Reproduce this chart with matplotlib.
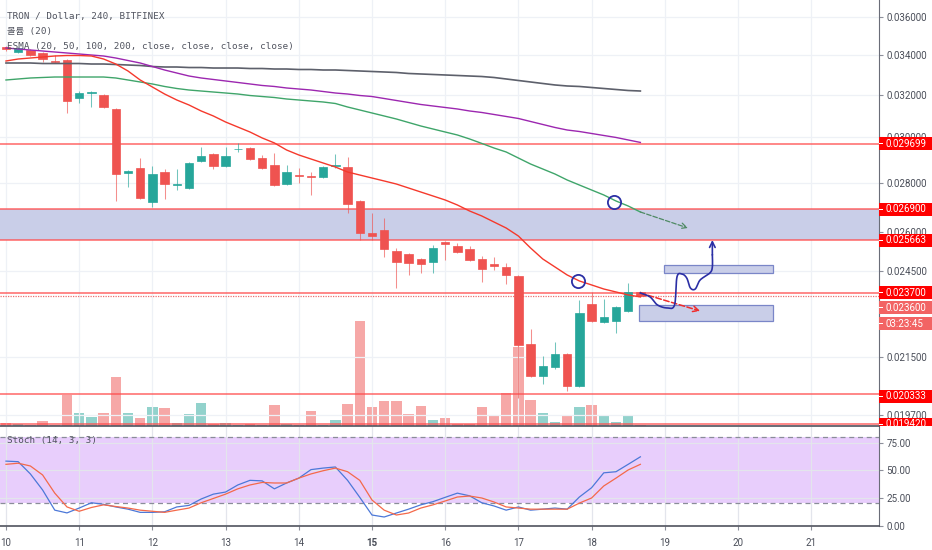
import numpy as np
import matplotlib
matplotlib.use("Agg")
import matplotlib.pyplot as plt
import matplotlib.transforms as mtransforms
from matplotlib.patches import Rectangle
from matplotlib.ticker import FixedLocator, NullLocator, FuncFormatter

# TRX/USD 4h candles (Bitfinex), starting the 10th 00:00
opens = [0.034400, 0.034140, 0.034244, 0.034089, 0.033678, 0.033729, 0.031842, 0.032108, 0.031987, 0.031316,
         0.028421, 0.028637, 0.027200, 0.028464, 0.027930, 0.027783, 0.028943, 0.029253, 0.028724, 0.029452,
         0.029519, 0.029075, 0.028768, 0.027951, 0.028357, 0.028314, 0.028250, 0.028724, 0.028681, 0.027242,
         0.025952, 0.026070, 0.025254, 0.025139, 0.024950, 0.024837, 0.025600, 0.025446, 0.025330, 0.024950,
         0.024762, 0.024650, 0.024317, 0.021934, 0.020896, 0.021184, 0.021605, 0.020583, 0.023305, 0.022679,
         0.022713, 0.023060, 0.023734]
highs = [0.034452, 0.034400, 0.034296, 0.034140, 0.033985, 0.033780, 0.032181, 0.032181, 0.032035, 0.031364,
         0.028551, 0.029075, 0.028724, 0.028594, 0.028594, 0.028899, 0.029564, 0.029297, 0.029564, 0.029746,
         0.029564, 0.029209, 0.029297, 0.028768, 0.028637, 0.028464, 0.028724, 0.029253, 0.029120, 0.027283,
         0.026751, 0.026548, 0.025369, 0.025177, 0.024988, 0.025484, 0.025639, 0.025561, 0.025446, 0.025063,
         0.025025, 0.024800, 0.024353, 0.022439, 0.021540, 0.022002, 0.021637, 0.023447, 0.023734, 0.023483,
         0.023236, 0.024060, 0.023769]
lows = [0.034192, 0.034089, 0.033934, 0.033627, 0.033576, 0.031127, 0.031602, 0.031411, 0.031364, 0.027242,
        0.027825, 0.027324, 0.026996, 0.027324, 0.027699, 0.027741, 0.028899, 0.028594, 0.028681, 0.029341,
        0.028987, 0.028594, 0.027867, 0.027909, 0.027994, 0.027490, 0.028207, 0.028637, 0.026751, 0.025678,
        0.025678, 0.025025, 0.023877, 0.024353, 0.024427, 0.024427, 0.024912, 0.025177, 0.024874, 0.024096,
        0.024538, 0.024024, 0.020211, 0.020865, 0.020645, 0.021120, 0.020427, 0.020551, 0.022679, 0.022645,
        0.022305, 0.023026, 0.023590]
closes = [0.034270, 0.034348, 0.033985, 0.033780, 0.033627, 0.031698, 0.032085, 0.032132, 0.031411, 0.028380,
          0.028508, 0.027366, 0.028378, 0.027951, 0.027951, 0.028855, 0.029164, 0.028724, 0.029164, 0.029475,
          0.029031, 0.028637, 0.027909, 0.028464, 0.028314, 0.028271, 0.028681, 0.028768, 0.027117, 0.025952,
          0.025834, 0.025330, 0.024837, 0.024800, 0.024762, 0.025369, 0.025542, 0.025215, 0.024912, 0.024575,
          0.024687, 0.024353, 0.021900, 0.020896, 0.021216, 0.021605, 0.020583, 0.022990, 0.022713, 0.022850,
          0.023201, 0.023734, 0.023600]
volume = [3, 2, 1, 5, 1, 31, 13, 9, 13, 49, 13, 8, 19, 18, 3, 12, 23, 2, 3, 1,
          2, 1, 21, 2, 1, 15, 1, 6, 22, 105, 19, 25, 25, 12, 20, 6, 8, 2, 2, 19,
          11, 33, 79, 26, 13, 4, 10, 19, 21, 10, 4, 11, 1]

ma20 = [0.033678, 0.033780, 0.033831, 0.033882, 0.033934, 0.033959, 0.033959, 0.033934, 0.033780, 0.033525,
        0.033172, 0.032723, 0.032377, 0.032035, 0.031746, 0.031507, 0.031222, 0.030986, 0.030705, 0.030473,
        0.030243, 0.029971, 0.029746, 0.029430, 0.029209, 0.029031, 0.028855, 0.028681, 0.028464, 0.028335,
        0.028207, 0.028080, 0.027951, 0.027783, 0.027615, 0.027449, 0.027283, 0.027077, 0.026832, 0.026630,
        0.026388, 0.026149, 0.025834, 0.025369, 0.024950, 0.024650, 0.024353, 0.024133, 0.023988, 0.023841,
        0.023734, 0.023627, 0.023556]
ma50 = [0.032723, 0.032773, 0.032822, 0.032847, 0.032871, 0.032871, 0.032871, 0.032871, 0.032871, 0.032822,
        0.032723, 0.032624, 0.032526, 0.032403, 0.032304, 0.032230, 0.032181, 0.032132, 0.032084, 0.032035,
        0.031962, 0.031914, 0.031866, 0.031794, 0.031746, 0.031698, 0.031650, 0.031578, 0.031411, 0.031269,
        0.031127, 0.030986, 0.030845, 0.030682, 0.030520, 0.030381, 0.030243, 0.030107, 0.029926, 0.029724,
        0.029519, 0.029341, 0.029075, 0.028811, 0.028594, 0.028378, 0.028122, 0.027909, 0.027699, 0.027491,
        0.027242, 0.027036, 0.026791]
ma100 = [0.034348, 0.034296, 0.034244, 0.034192, 0.034140, 0.034089, 0.034037, 0.033985, 0.033934, 0.033831,
         0.033703, 0.033576, 0.033399, 0.033222, 0.033071, 0.032921, 0.032822, 0.032748, 0.032674, 0.032600,
         0.032526, 0.032452, 0.032403, 0.032329, 0.032279, 0.032230, 0.032157, 0.032084, 0.032035, 0.031963,
         0.031914, 0.031818, 0.031722, 0.031626, 0.031531, 0.031459, 0.031388, 0.031317, 0.031222, 0.031151,
         0.031057, 0.030963, 0.030869, 0.030729, 0.030590, 0.030451, 0.030335, 0.030266, 0.030175, 0.030084,
         0.029994, 0.029881, 0.029769]
ma200 = [0.033576, 0.033576, 0.033576, 0.033550, 0.033550, 0.033550, 0.033550, 0.033525, 0.033525, 0.033500,
         0.033474, 0.033449, 0.033398, 0.033373, 0.033373, 0.033347, 0.033347, 0.033322, 0.033322, 0.033322,
         0.033297, 0.033297, 0.033272, 0.033272, 0.033247, 0.033247, 0.033222, 0.033222, 0.033197, 0.033172,
         0.033147, 0.033122, 0.033097, 0.033047, 0.033022, 0.032997, 0.032972, 0.032947, 0.032921, 0.032896,
         0.032847, 0.032773, 0.032698, 0.032624, 0.032550, 0.032477, 0.032427, 0.032403, 0.032353, 0.032304,
         0.032255, 0.032206, 0.032181]

stoch_k = [58.3, 57.8, 46.7, 32.2, 13.9, 11.4, 15.8, 20.6, 19.2, 16.8,
           14.8, 11.9, 11.9, 12.4, 16.8, 18.2, 24.0, 28.4, 30.3, 36.7,
           40.9, 40.4, 33.2, 38.5, 42.9, 50.6, 52.0, 53.0, 40.9, 25.5,
           9.5, 7.7, 11.3, 14.8, 18.7, 21.6, 25.5, 29.3, 26.9, 20.6,
           17.7, 13.9, 16.8, 13.9, 14.8, 15.8, 14.8, 25.8, 34.2, 47.7,
           48.7, 55.4, 62.2]
stoch_d = [55.4, 56.4, 53.9, 45.8, 29.3, 16.8, 12.9, 16.3, 18.7, 17.2,
           15.8, 13.9, 12.9, 11.9, 13.9, 15.8, 20.6, 24.5, 28.4, 33.2,
           36.7, 39.0, 38.5, 38.5, 42.9, 46.7, 49.6, 52.0, 48.7, 40.9,
           23.1, 13.9, 9.5, 11.3, 15.8, 18.7, 22.2, 25.8, 26.7, 24.9,
           21.3, 16.8, 15.8, 14.8, 14.8, 14.8, 14.8, 20.3, 24.9, 35.8,
           42.9, 50.3, 55.4]

day_labels = ['10', '11', '12', '13', '14', '15', '16', '17', '18', '19', '20', '21']
candles_per_day = 6
# 0.023000 sits fully under the last-price tags, so it is left out
price_ticks = [0.036, 0.034, 0.032, 0.030, 0.028, 0.026, 0.0245, 0.0215, 0.0197]
stoch_ticks = [0, 25, 50, 75]

line_29699 = 0.029699
zone = (0.025663, 0.026900)
line_237 = 0.023700
last_price = 0.023600
line_20333 = 0.020333
line_1942 = 0.019420

# drawing-tool anchors (candle index, price)
circles = [(49.8, 0.027201), (46.9, 0.024133)]
green_arrow = [(52, 0.026791), (55.9, 0.026149)]
red_arrow = [(52, 0.023697), (56.9, 0.023060)]
boxes = [(53.9, 62.9, 0.024427, 0.024725), (51.9, 62.9, 0.022713, 0.023271)]
path_x = [52.0, 52.8, 53.4, 54.2, 54.8, 55.0, 55.4, 55.8, 56.1, 56.5, 56.9, 57.7, 57.9, 57.9]
path_y = [0.023697, 0.023554, 0.023271, 0.023166, 0.023270, 0.024278, 0.024390, 0.024242,
          0.023877, 0.023841, 0.024169, 0.024427, 0.024650, 0.025100]
path_tip = (57.9, 0.025678)

UP, DOWN = '#26a69a', '#ef5350'
TXT = '#4a4e59'
GRID = '#eef1f6'
plt.rcParams['font.family'] = ['Roboto', 'DejaVu Sans']
MONO = ['DejaVu Sans Mono', 'Noto Sans CJK KR']

W, H = 932, 550
fig = plt.figure(figsize=(W / 100, H / 100), dpi=100)


def px_rect(x0, y0, x1, y1):
    return [x0 / W, 1 - y1 / H, (x1 - x0) / W, (y1 - y0) / H]


def smooth_path(xs, ys, steps=10):
    # Catmull-Rom through the hand-drawn anchors, in log-price space
    px = np.array(xs, float)
    py = np.log(np.array(ys, float))
    px = np.r_[px[0], px, px[-1]]
    py = np.r_[py[0], py, py[-1]]
    ox, oy = [], []
    t = np.linspace(0, 1, steps, endpoint=False)
    for k in range(1, len(px) - 2):
        for arr, out in ((px, ox), (py, oy)):
            p0, p1, p2, p3 = arr[k - 1:k + 3]
            out.extend(0.5 * (2 * p1 + (-p0 + p2) * t + (2 * p0 - 5 * p1 + 4 * p2 - p3) * t ** 2
                              + (-p0 + 3 * p1 - 3 * p2 + p3) * t ** 3))
    ox.append(xs[-1])
    oy.append(np.log(ys[-1]))
    return np.array(ox), np.exp(oy)


n = len(closes)
x = np.arange(n)
xlim = (-0.49, 71.56)
day_pos = np.arange(len(day_labels)) * candles_per_day
o, c, hi, lo = map(np.array, (opens, closes, highs, lows))
up = c >= o
col = np.where(up, UP, DOWN)

# volume underlay
ax_vol = fig.add_axes(px_rect(0, 0, 879, 426))
ax_vol.bar(x, volume, width=0.86, color=col, alpha=0.5, linewidth=0)
ax_vol.set_xlim(*xlim)
ax_vol.set_ylim(0, max(volume) / 0.246)
ax_vol.axis('off')

# price pane
ax = fig.add_axes(px_rect(0, 0, 879, 426))
ax.set_zorder(2)
ax.patch.set_alpha(0)
ax.set_yscale('log')
ax.set_xlim(*xlim)
ax.set_ylim(0.019372, 0.036939)
ax.yaxis.set_major_locator(FixedLocator(price_ticks))
ax.yaxis.set_minor_locator(NullLocator())
ax.yaxis.set_major_formatter(FuncFormatter(lambda v, p: f'{v:.6f}'))
ax.yaxis.tick_right()
ax.set_xticks(day_pos)
ax.tick_params(axis='x', length=0, labelbottom=False)
ax.tick_params(axis='y', length=3, width=0.8, color='#8d909b', pad=2.5, labelsize=7, labelcolor=TXT)
ax.grid(True, color=GRID, lw=0.9)
ax.set_axisbelow(True)
for s in ('top', 'left'):
    ax.spines[s].set_visible(False)
ax.spines['right'].set_color('#6a6d78')
ax.spines['bottom'].set_color('#50535e')
ax.spines['bottom'].set_linewidth(1.2)

ax.axhspan(zone[0], zone[1], fc='#c9cee8', ec='none', zorder=0.8)
for lvl in (line_29699, zone[0], zone[1], line_237, line_20333, line_1942):
    ax.axhline(lvl, color='#ff4d4d', lw=1.1, alpha=0.85, zorder=1)
ax.axhline(last_price, color='#f07070', lw=0.9, ls=(0, (1, 1)), zorder=1)

ax.vlines(x, lo, hi, colors=col, lw=0.75, alpha=0.65, zorder=3)
ax.bar(x, np.abs(c - o), bottom=np.minimum(o, c), width=0.68, color=col,
       edgecolor=col, linewidth=0.5, zorder=3.2)

ax.plot(x, ma200, color='#5d606b', lw=1.2, zorder=4)
ax.plot(x, ma100, color='#9c27b0', lw=1.0, zorder=4)
ax.plot(x, ma50, color='#3fa56a', lw=1.0, zorder=4)
ax.plot(x, ma20, color='#f5392c', lw=1.0, zorder=4)

# drawings
for b in boxes:
    ax.add_patch(Rectangle((b[0], b[2]), b[1] - b[0], b[3] - b[2], fc='#c9cee8',
                           ec='#7a86c8', lw=0.9, zorder=4.5))
for cx, cy in circles:
    ax.plot(cx, cy, 'o', ms=9.5, mfc='none', mec='#2b2fa5', mew=1.3, zorder=6)
ax.annotate('', xy=green_arrow[1], xytext=green_arrow[0],
            arrowprops=dict(arrowstyle='->', color='#4f8a64', lw=0.9, ls='--',
                            shrinkA=0, shrinkB=0), zorder=6)
ax.annotate('', xy=red_arrow[1], xytext=red_arrow[0],
            arrowprops=dict(arrowstyle='->', color='#f02c2c', lw=1.1, ls='--',
                            shrinkA=0, shrinkB=0), zorder=6)
sx, sy = smooth_path(path_x, path_y)
ax.plot(sx, sy, color='#2b2fa5', lw=1.2, zorder=6, solid_joinstyle='round')
ax.annotate('', xy=path_tip, xytext=(path_x[-1], path_y[-1]),
            arrowprops=dict(arrowstyle='->', color='#2b2fa5', lw=1.2,
                            shrinkA=0, shrinkB=0), zorder=6)

ax.text(0.008, 0.962, 'TRON / Dollar, 240, BITFINEX', transform=ax.transAxes,
        family=MONO, fontsize=6.7, color='#50535e', va='center', zorder=7)
ax.text(0.008, 0.926, '볼륨 (20)', transform=ax.transAxes,
        family=MONO, fontsize=6.7, color='#50535e', va='center', zorder=7)
ax.text(0.008, 0.892, 'ESMA (20, 50, 100, 200, close, close, close, close)',
        transform=ax.transAxes, family=MONO, fontsize=6.7, color='#50535e', va='center', zorder=7)

# stochastic pane
ax_st = fig.add_axes(px_rect(0, 427, 879, 526))
ax_st.set_xlim(*xlim)
ax_st.set_ylim(-0.45, 89.2)
ax_st.axhspan(20, 80, fc='#e8cefc', ec='none', zorder=0.2)
ax_st.axhline(80, color='#8a8d99', lw=0.9, ls=(0, (4, 3)), zorder=1)
ax_st.axhline(20, color='#8a8d99', lw=0.9, ls=(0, (4, 3)), zorder=1)
ax_st.plot(x, stoch_k, color='#4c78d8', lw=0.9, zorder=3)
ax_st.plot(x, stoch_d, color='#f4694a', lw=0.9, zorder=3)
ax_st.yaxis.tick_right()
ax_st.set_yticks(stoch_ticks)
ax_st.yaxis.set_major_formatter(FuncFormatter(lambda v, p: f'{v:.2f}'))
ax_st.set_xticks(day_pos)
ax_st.set_xticklabels(day_labels)
for lab in ax_st.get_xticklabels():
    if lab.get_text() == '15':
        lab.set_fontweight('bold')
ax_st.tick_params(axis='y', length=3, width=0.8, color='#8d909b', pad=2.5, labelsize=7, labelcolor=TXT)
ax_st.tick_params(axis='x', length=3, width=0.8, color='#8d909b', pad=6, labelsize=7, labelcolor=TXT)
ax_st.grid(True, color='#e3e5ec', lw=0.9, zorder=0.5)
ax_st.set_axisbelow(True)
for s in ('top', 'left'):
    ax_st.spines[s].set_visible(False)
ax_st.spines['right'].set_color('#6a6d78')
ax_st.spines['bottom'].set_color('#50535e')
ax_st.spines['bottom'].set_linewidth(1.2)
ax_st.text(0.008, 0.86, 'Stoch (14, 3, 3)', transform=ax_st.transAxes,
           family=MONO, fontsize=6.7, color='#50535e', va='center')

# price tags on the right scale
ident = mtransforms.IdentityTransform()
pane_bottom = H - 426


def price_tag(value, text, fc, shift=0.0, h=13):
    yc = ax.transData.transform((0, value))[1] - shift
    y0 = max(yc - h / 2, pane_bottom)
    fig.patches.append(Rectangle((879, y0), W - 879, yc + h / 2 - y0, transform=ident,
                                 fc=fc, ec='none', zorder=5))
    fig.patches.append(Rectangle((879, yc - 0.5), 4, 1, transform=ident, fc='white', ec='none', zorder=6))
    fig.text(886, yc, text, transform=ident, color='white', fontsize=7, va='center', zorder=7)


price_tag(line_29699, f'{line_29699:.6f}', '#ff0000')
price_tag(zone[1], f'{zone[1]:.6f}', '#ff0000')
price_tag(zone[0], f'{zone[0]:.6f}', '#ff0000')
price_tag(line_237, f'{line_237:.6f}', '#ff0000')
price_tag(last_price, f'{last_price:.6f}', '#f26464', shift=12)
price_tag(last_price, '03:23:45', '#f26464', shift=28)
price_tag(line_20333, f'{line_20333:.6f}', '#ff0000', shift=2)
price_tag(line_1942, f'{line_1942:.6f}', '#ff0000')

fig.savefig('out.png', dpi=100)
